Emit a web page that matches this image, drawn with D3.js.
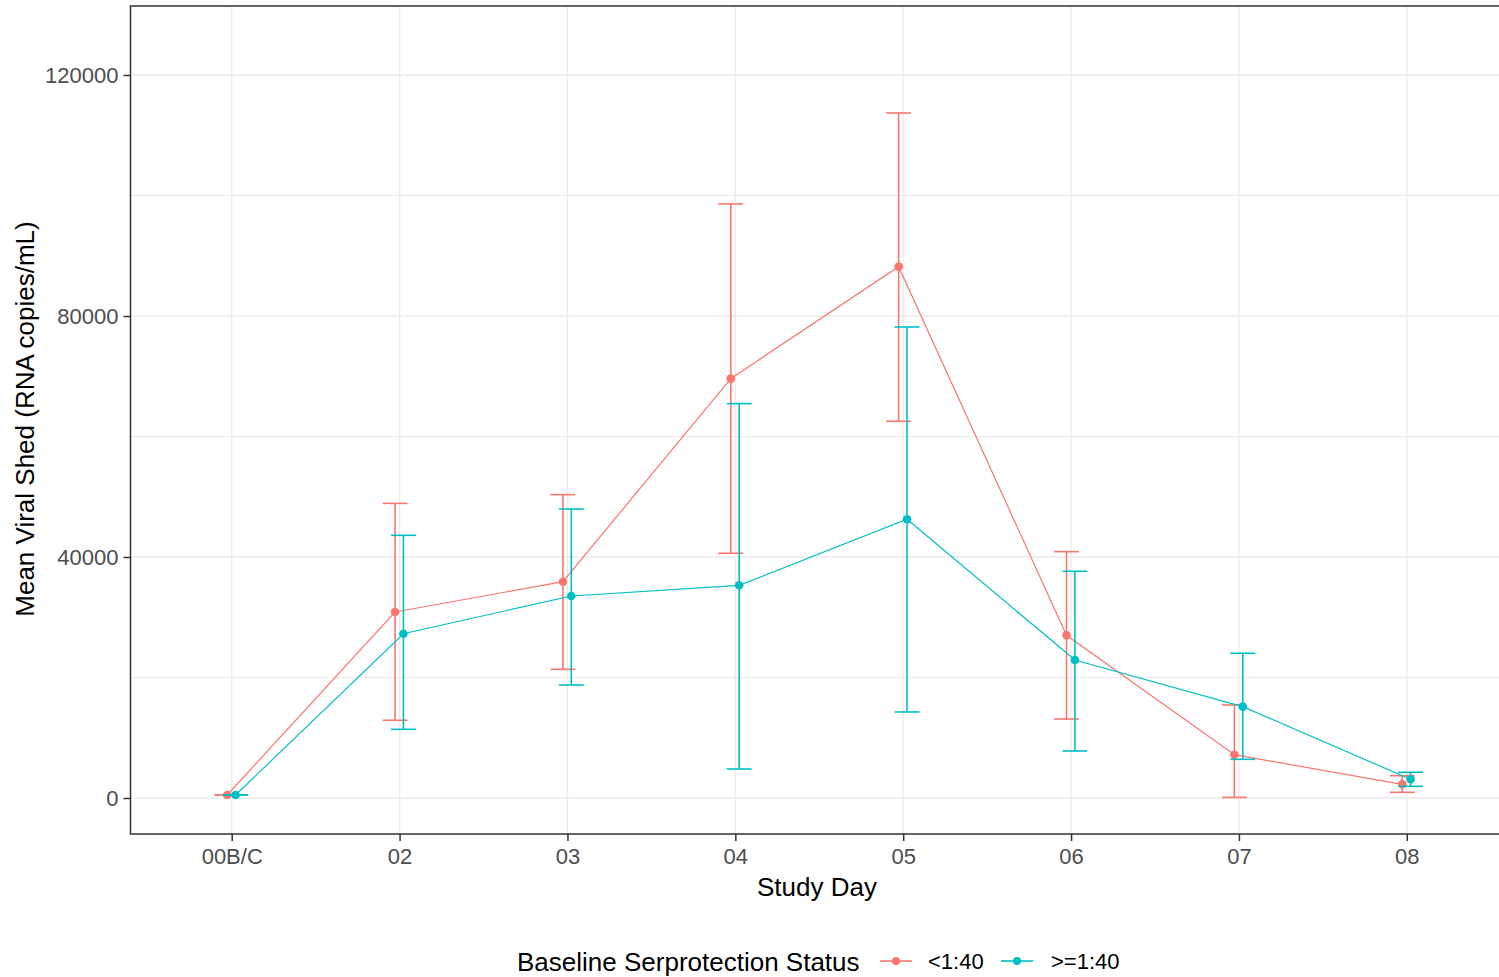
<!DOCTYPE html>
<html>
<head>
<meta charset="utf-8">
<script src="https://cdn.jsdelivr.net/npm/d3@7"></script>
<style>
  html, body { margin: 0; padding: 0; background: #fff; }
  svg { display: block; font-family: "Liberation Sans", Arial, sans-serif; }
</style>
</head>
<body>
<svg id="chart" width="1499" height="977"></svg>
<script>
// ---- data ----
const categories = ["00B/C", "02", "03", "04", "05", "06", "07", "08"];
const seriesNames = ["<1:40", ">=1:40"];
const seriesColors = ["#F8766D", "#00BFC4"];

const meanLow  = [500, 30870, 35900, 69600, 88190, 27000, 7190, 2270];
const upperLow = [500, 48900, 50350, 98600, 113700, 40890, 15440, 3700];
const lowerLow = [500, 12900, 21360, 40620, 62530, 13110, 100, 950];

const meanHigh  = [500, 27270, 33530, 35300, 46260, 22900, 15160, 3100];
const upperHigh = [500, 43600, 47970, 65450, 78180, 37630, 24020, 4270];
const lowerHigh = [500, 11400, 18760, 4810, 14280, 7800, 6420, 1940];

const yTicks = [0, 40000, 80000, 120000];
const yMinor = [20000, 60000, 100000];
const dodge = [-0.027, 0.023];   // offset as fraction of category step

// ---- layout ----
const svg = d3.select("#chart");
const panel = { left: 131, right: 1507.5, top: 6, bottom: 834 };

const x = d3.scalePoint().domain(categories).range([panel.left, panel.right]).padding(0.6);
const y = d3.scaleLinear().domain([0, 120000]).range([798, 75]);
const step = x.step();

const series = [
  { name: seriesNames[0], color: seriesColors[0], mean: meanLow, up: upperLow, lo: lowerLow, off: dodge[0] },
  { name: seriesNames[1], color: seriesColors[1], mean: meanHigh, up: upperHigh, lo: lowerHigh, off: dodge[1] }
];

// grid
const g = svg.append("g");
g.selectAll(".minor").data(yMinor).join("line")
  .attr("x1", panel.left).attr("x2", panel.right)
  .attr("y1", d => y(d)).attr("y2", d => y(d))
  .attr("stroke", "#EBEBEB").attr("stroke-width", 1.1);
g.selectAll(".major").data(yTicks).join("line")
  .attr("x1", panel.left).attr("x2", panel.right)
  .attr("y1", d => y(d)).attr("y2", d => y(d))
  .attr("stroke", "#EBEBEB").attr("stroke-width", 1.3);
g.selectAll(".vgrid").data(categories).join("line")
  .attr("x1", d => x(d)).attr("x2", d => x(d))
  .attr("y1", panel.top).attr("y2", panel.bottom)
  .attr("stroke", "#EBEBEB").attr("stroke-width", 1.3);

// series
const capHalf = 0.074 * step;
series.forEach(s => {
  const pts = categories.map((c, i) => ({
    cx: x(c) + s.off * step, m: s.mean[i], u: s.up[i], l: s.lo[i]
  }));
  const sg = svg.append("g");
  // error bars
  sg.selectAll(".ev").data(pts).join("line")
    .attr("x1", d => d.cx).attr("x2", d => d.cx)
    .attr("y1", d => y(d.u)).attr("y2", d => y(d.l))
    .attr("stroke", s.color).attr("stroke-width", 1.6);
  sg.selectAll(".eu").data(pts).join("line")
    .attr("x1", d => d.cx - capHalf).attr("x2", d => d.cx + capHalf)
    .attr("y1", d => y(d.u)).attr("y2", d => y(d.u))
    .attr("stroke", s.color).attr("stroke-width", 1.6);
  sg.selectAll(".el").data(pts).join("line")
    .attr("x1", d => d.cx - capHalf).attr("x2", d => d.cx + capHalf)
    .attr("y1", d => y(d.l)).attr("y2", d => y(d.l))
    .attr("stroke", s.color).attr("stroke-width", 1.6);
  // line
  sg.append("path")
    .attr("d", d3.line().x(d => d.cx).y(d => y(d.m))(pts))
    .attr("fill", "none").attr("stroke", s.color).attr("stroke-width", 1.2);
  // points
  sg.selectAll("circle").data(pts).join("circle")
    .attr("cx", d => d.cx).attr("cy", d => y(d.m)).attr("r", 4.3)
    .attr("fill", s.color);
});

// panel border
svg.append("rect")
  .attr("x", panel.left - 0.5).attr("y", panel.top)
  .attr("width", panel.right - panel.left + 0.5).attr("height", panel.bottom - panel.top)
  .attr("fill", "none").attr("stroke", "#333333").attr("stroke-width", 1.5);

// y axis
const yAxis = svg.append("g").attr("transform", `translate(${panel.left - 0.5},0)`)
  .call(d3.axisLeft(y).tickValues(yTicks).tickSize(7).tickPadding(5).tickFormat(d3.format("d")));
yAxis.select(".domain").remove();
yAxis.selectAll(".tick line").attr("stroke", "#333333").attr("stroke-width", 1.5);
yAxis.selectAll(".tick text").attr("fill", "#4D4D4D").style("font-size", "22px")
  .style("font-family", "'Liberation Sans', Arial, sans-serif");

// x axis
const xAxis = svg.append("g").attr("transform", `translate(0,${panel.bottom})`)
  .call(d3.axisBottom(x).tickSize(7).tickPadding(7));
xAxis.select(".domain").remove();
xAxis.selectAll(".tick line").attr("stroke", "#333333").attr("stroke-width", 1.5);
xAxis.selectAll(".tick text").attr("fill", "#4D4D4D").style("font-size", "22px")
  .style("font-family", "'Liberation Sans', Arial, sans-serif");

// axis titles
svg.append("text").attr("x", 817).attr("y", 896).attr("text-anchor", "middle")
  .style("font-size", "26px").attr("fill", "#000").text("Study Day");
svg.append("text").attr("transform", "translate(34,419) rotate(-90)").attr("text-anchor", "middle")
  .style("font-size", "26px").attr("fill", "#000").text("Mean Viral Shed (RNA copies/mL)");

// legend
const leg = svg.append("g");
leg.append("text").attr("x", 517).attr("y", 971).style("font-size", "26px").attr("fill", "#000")
  .text("Baseline Serprotection Status");
const keyX = [880, 1001];
const labX = [928, 1051];
series.forEach((s, i) => {
  leg.append("line").attr("x1", keyX[i]).attr("x2", keyX[i] + 32)
    .attr("y1", 961).attr("y2", 961).attr("stroke", s.color).attr("stroke-width", 1.6);
  leg.append("circle").attr("cx", keyX[i] + 16).attr("cy", 961).attr("r", 4).attr("fill", s.color);
  leg.append("text").attr("x", labX[i]).attr("y", 969).style("font-size", "22px").attr("fill", "#000")
    .text(s.name);
});
</script>
</body>
</html>
